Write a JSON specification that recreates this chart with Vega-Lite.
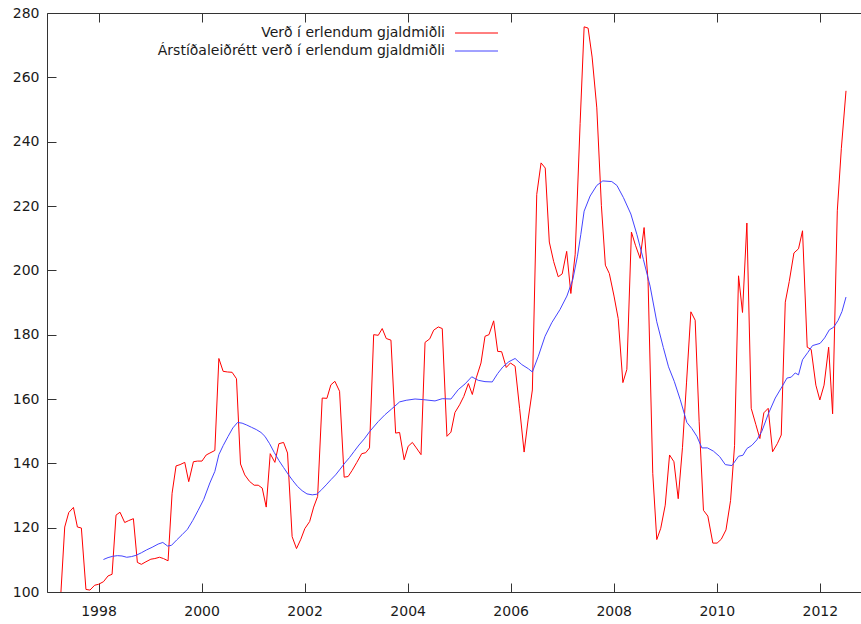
{
  "$schema": "https://vega.github.io/schema/vega-lite/v6.json",
  "width": 814,
  "height": 579,
  "autosize": "none",
  "padding": {"left": 47, "top": 13, "right": 0, "bottom": 32},
  "background": "white",
  "config": {
    "view": {"stroke": null},
    "font": "DejaVu Sans",
    "axis": {
      "grid": false,
      "domainColor": "#333333",
      "tickColor": "#333333",
      "tickWidth": 1,
      "ticks": true,
      "labelColor": "#1a1a1a",
      "labelFont": "DejaVu Sans",
      "labelFontSize": 14,
      "tickSize": -9,
      "title": null
    }
  },
  "datasets": {
    "red": [
      {"year":1997.195,"value":97},{"year":1997.267,"value":99},{"year":1997.344,"value":120.2},{"year":1997.422,"value":124.7},{"year":1997.513,"value":126.3},{"year":1997.59,"value":120.2},{"year":1997.667,"value":119.9},{"year":1997.756,"value":100.8},{"year":1997.834,"value":100.6},{"year":1997.925,"value":102.1},{"year":1998.002,"value":102.4},
      {"year":1998.096,"value":103.2},{"year":1998.185,"value":105},{"year":1998.263,"value":105.5},{"year":1998.34,"value":123.9},{"year":1998.417,"value":124.8},{"year":1998.508,"value":121.6},{"year":1998.586,"value":122.2},{"year":1998.677,"value":122.8},{"year":1998.754,"value":109.2},{"year":1998.832,"value":108.6},{"year":1998.921,"value":109.4},
      {"year":1999.016,"value":110.2},{"year":1999.093,"value":110.4},{"year":1999.184,"value":110.8},{"year":1999.261,"value":110.4},{"year":1999.35,"value":109.7},{"year":1999.428,"value":130.7},{"year":1999.505,"value":139.2},{"year":1999.583,"value":139.6},{"year":1999.674,"value":140.3},{"year":1999.751,"value":134.3},{"year":1999.842,"value":140.5},{"year":1999.919,"value":140.7},{"year":2000.008,"value":140.7},
      {"year":2000.09,"value":142.6},{"year":2000.162,"value":143.2},{"year":2000.258,"value":144},{"year":2000.336,"value":172.6},{"year":2000.419,"value":168.6},{"year":2000.504,"value":168.4},{"year":2000.593,"value":168.3},{"year":2000.678,"value":166.3},{"year":2000.756,"value":139.8},{"year":2000.839,"value":136.4},{"year":2000.93,"value":134.4},{"year":2001.021,"value":133.2},
      {"year":2001.1,"value":133.2},{"year":2001.178,"value":132.3},{"year":2001.255,"value":126.4},{"year":2001.333,"value":143},{"year":2001.423,"value":140.3},{"year":2001.501,"value":146.1},{"year":2001.592,"value":146.5},{"year":2001.669,"value":143.2},{"year":2001.758,"value":117.2},{"year":2001.843,"value":113.5},{"year":2001.927,"value":116.4},{"year":2002.004,"value":119.7},
      {"year":2002.098,"value":121.9},{"year":2002.176,"value":126.4},{"year":2002.253,"value":129.7},{"year":2002.342,"value":160.3},{"year":2002.433,"value":160.2},{"year":2002.51,"value":164.4},{"year":2002.588,"value":165.5},{"year":2002.679,"value":162.4},{"year":2002.768,"value":135.7},{"year":2002.845,"value":135.9},{"year":2002.923,"value":137.8},{"year":2003.014,"value":140.3},
      {"year":2003.109,"value":143},{"year":2003.186,"value":143.3},{"year":2003.26,"value":144.8},{"year":2003.341,"value":180},{"year":2003.43,"value":179.8},{"year":2003.507,"value":181.9},{"year":2003.585,"value":178.8},{"year":2003.676,"value":178.3},{"year":2003.767,"value":149.4},{"year":2003.844,"value":149.6},{"year":2003.933,"value":141.1},{"year":2004.01,"value":145.3},
      {"year":2004.092,"value":146.5},{"year":2004.169,"value":144.8},{"year":2004.26,"value":142.7},{"year":2004.338,"value":177.6},{"year":2004.429,"value":178.7},{"year":2004.506,"value":181.4},{"year":2004.595,"value":182.4},{"year":2004.672,"value":181.9},{"year":2004.763,"value":148.4},{"year":2004.841,"value":149.7},{"year":2004.918,"value":155.8},{"year":2005.009,"value":158.2},
      {"year":2005.09,"value":160.8},{"year":2005.179,"value":164.8},{"year":2005.256,"value":161.4},{"year":2005.333,"value":166.6},{"year":2005.424,"value":171.2},{"year":2005.502,"value":179.5},{"year":2005.579,"value":180},{"year":2005.67,"value":184.3},{"year":2005.748,"value":174.8},{"year":2005.825,"value":174.7},{"year":2005.914,"value":169.8},{"year":2005.995,"value":171.2},
      {"year":2006.086,"value":170.2},{"year":2006.174,"value":157},{"year":2006.261,"value":143.5},{"year":2006.338,"value":153.5},{"year":2006.421,"value":162.8},{"year":2006.506,"value":223.6},{"year":2006.59,"value":233.4},{"year":2006.671,"value":231.8},{"year":2006.75,"value":208.8},{"year":2006.835,"value":202.7},{"year":2006.923,"value":198},{"year":2007.0,"value":198.9},
      {"year":2007.087,"value":205.9},{"year":2007.168,"value":192.8},{"year":2007.252,"value":205},{"year":2007.348,"value":245.7},{"year":2007.426,"value":275.7},{"year":2007.503,"value":275.3},{"year":2007.581,"value":266.3},{"year":2007.672,"value":250.5},{"year":2007.761,"value":220.1},{"year":2007.838,"value":201.6},{"year":2007.915,"value":199},{"year":2008.006,"value":192},
      {"year":2008.087,"value":185},{"year":2008.178,"value":165.1},{"year":2008.255,"value":169.2},{"year":2008.344,"value":211.9},{"year":2008.422,"value":207.8},{"year":2008.513,"value":203.7},{"year":2008.59,"value":213.3},{"year":2008.667,"value":196.6},{"year":2008.758,"value":136.9},{"year":2008.836,"value":116.3},{"year":2008.913,"value":119.8},{"year":2009.0,"value":127},
      {"year":2009.084,"value":142.6},{"year":2009.169,"value":140.5},{"year":2009.252,"value":129},{"year":2009.335,"value":145},{"year":2009.413,"value":165},{"year":2009.498,"value":187.1},{"year":2009.581,"value":184.5},{"year":2009.658,"value":153.1},{"year":2009.742,"value":125.4},{"year":2009.827,"value":123.6},{"year":2009.924,"value":115.2},{"year":2010.007,"value":115.2},
      {"year":2010.088,"value":116.4},{"year":2010.179,"value":119.3},{"year":2010.268,"value":128.4},{"year":2010.346,"value":145.6},{"year":2010.423,"value":198.3},{"year":2010.5,"value":186.9},{"year":2010.585,"value":214.7},{"year":2010.669,"value":157.1},{"year":2010.76,"value":152},{"year":2010.837,"value":147.7},{"year":2010.914,"value":155.7},{"year":2010.998,"value":157.1},
      {"year":2011.084,"value":143.6},{"year":2011.175,"value":146.1},{"year":2011.252,"value":148.8},{"year":2011.33,"value":190.1},{"year":2011.407,"value":196.5},{"year":2011.498,"value":205.4},{"year":2011.587,"value":206.7},{"year":2011.665,"value":212.3},{"year":2011.756,"value":176.1},{"year":2011.833,"value":175.4},{"year":2011.924,"value":164.3},{"year":2012.001,"value":159.7},
      {"year":2012.083,"value":164.3},{"year":2012.172,"value":176.1},{"year":2012.249,"value":155.4},{"year":2012.34,"value":218.5},{"year":2012.418,"value":237.8},{"year":2012.509,"value":255.8}
    ],
    "blue": [
      {"year":1998.096,"value":110.1},{"year":1998.185,"value":110.7},{"year":1998.276,"value":111.1},{"year":1998.367,"value":111.3},{"year":1998.456,"value":111.2},{"year":1998.547,"value":110.8},{"year":1998.638,"value":111},{"year":1998.727,"value":111.4},{"year":1998.832,"value":112.2},{"year":1998.934,"value":113.1},
      {"year":1999.041,"value":113.9},{"year":1999.157,"value":114.9},{"year":1999.248,"value":115.4},{"year":1999.339,"value":114.3},{"year":1999.416,"value":114.5},{"year":1999.519,"value":116.2},{"year":1999.621,"value":117.8},{"year":1999.726,"value":119.5},{"year":1999.828,"value":122.2},{"year":1999.931,"value":125.3},
      {"year":2000.04,"value":128.7},{"year":2000.161,"value":133.9},{"year":2000.258,"value":137.5},{"year":2000.336,"value":142.7},{"year":2000.419,"value":145.5},{"year":2000.516,"value":148.4},{"year":2000.607,"value":151},{"year":2000.698,"value":152.7},{"year":2000.787,"value":152.5},{"year":2000.878,"value":151.9},{"year":2000.969,"value":151.2},
      {"year":2001.062,"value":150.5},{"year":2001.153,"value":149.6},{"year":2001.23,"value":148.4},{"year":2001.321,"value":146.1},{"year":2001.41,"value":143.4},{"year":2001.501,"value":140.9},{"year":2001.592,"value":138.7},{"year":2001.681,"value":136.6},{"year":2001.772,"value":134.6},{"year":2001.863,"value":132.8},{"year":2001.952,"value":131.5},
      {"year":2002.046,"value":130.5},{"year":2002.148,"value":130.2},{"year":2002.239,"value":130.4},{"year":2002.33,"value":131.8},{"year":2002.419,"value":133.3},{"year":2002.51,"value":134.9},{"year":2002.601,"value":136.4},{"year":2002.69,"value":138.2},{"year":2002.781,"value":140.1},{"year":2002.872,"value":141.8},{"year":2002.961,"value":143.7},
      {"year":2003.056,"value":145.7},{"year":2003.159,"value":147.6},{"year":2003.269,"value":150},{"year":2003.43,"value":153},{"year":2003.559,"value":155.1},{"year":2003.689,"value":156.9},{"year":2003.844,"value":159.1},{"year":2003.972,"value":159.6},
      {"year":2004.144,"value":160},{"year":2004.305,"value":159.8},{"year":2004.531,"value":159.4},{"year":2004.672,"value":160.1},{"year":2004.841,"value":160},{"year":2004.982,"value":162.9},
      {"year":2005.115,"value":164.7},{"year":2005.244,"value":166.9},{"year":2005.372,"value":165.8},{"year":2005.502,"value":165.4},{"year":2005.643,"value":165.3},{"year":2005.747,"value":167.9},{"year":2005.85,"value":170},{"year":2005.966,"value":171.6},
      {"year":2006.086,"value":172.6},{"year":2006.216,"value":170.7},{"year":2006.344,"value":169.4},{"year":2006.421,"value":168.4},{"year":2006.537,"value":173.3},{"year":2006.667,"value":179.5},{"year":2006.797,"value":183.7},{"year":2006.957,"value":187.8},
      {"year":2007.091,"value":192},{"year":2007.207,"value":197.2},{"year":2007.296,"value":204.4},{"year":2007.362,"value":211.2},{"year":2007.426,"value":218.4},{"year":2007.542,"value":223.1},{"year":2007.672,"value":226.4},{"year":2007.788,"value":227.8},{"year":2007.962,"value":227.6},
      {"year":2008.062,"value":226.4},{"year":2008.189,"value":222.6},{"year":2008.333,"value":217.5},{"year":2008.449,"value":211.2},{"year":2008.576,"value":203.4},{"year":2008.706,"value":195.1},{"year":2008.836,"value":184},{"year":2008.963,"value":176},
      {"year":2009.064,"value":170},{"year":2009.175,"value":165.5},{"year":2009.291,"value":159.8},{"year":2009.42,"value":152.7},{"year":2009.517,"value":150.8},{"year":2009.614,"value":148.4},{"year":2009.711,"value":144.8},{"year":2009.819,"value":144.8},{"year":2009.935,"value":143.8},
      {"year":2010.056,"value":142.1},{"year":2010.166,"value":139.6},{"year":2010.295,"value":139.3},{"year":2010.423,"value":142.2},{"year":2010.508,"value":142.5},{"year":2010.586,"value":144.6},{"year":2010.682,"value":145.6},{"year":2010.779,"value":147.3},{"year":2010.876,"value":150},{"year":2011.004,"value":155.5},
      {"year":2011.136,"value":160.3},{"year":2011.266,"value":163.8},{"year":2011.363,"value":166.5},{"year":2011.446,"value":166.8},{"year":2011.523,"value":168.1},{"year":2011.587,"value":167.5},{"year":2011.665,"value":172.2},{"year":2011.769,"value":174.5},{"year":2011.858,"value":176.6},{"year":2012.007,"value":177.3},
      {"year":2012.094,"value":179},{"year":2012.185,"value":181.5},{"year":2012.269,"value":182.3},{"year":2012.354,"value":184.4},{"year":2012.431,"value":187.2},{"year":2012.509,"value":191.7}
    ]
  },
  "layer": [
    {
      "data": {"name": "red"},
      "mark": {"type": "line", "clip": true, "strokeWidth": 1},
      "encoding": {
        "x": {"field": "year", "type": "quantitative",
              "scale": {"domain": [1997, 2012.8], "nice": false, "zero": false},
              "axis": {"orient": "bottom", "values": [1998, 2000, 2002, 2004, 2006, 2008, 2010, 2012], "format": "d", "labelPadding": 21}},
        "y": {"field": "value", "type": "quantitative",
              "scale": {"domain": [100, 280], "nice": false, "zero": false},
              "axis": {"values": [100, 120, 140, 160, 180, 200, 220, 240, 260, 280], "labelPadding": 17}},
        "color": {
          "datum": "Verð í erlendum gjaldmiðli",
          "scale": {"domain": ["Verð í erlendum gjaldmiðli", "Árstíðaleiðrétt verð í erlendum gjaldmiðli"], "range": ["#ff0000", "#4444ff"]},
          "legend": {
            "orient": "none", "legendX": 422, "legendY": 12.5,
            "title": null, "padding": 0,
            "symbolType": "M-3.07,0H3.07", "symbolSize": 196, "symbolStrokeWidth": 1,
            "labelAlign": "right", "labelOffset": -39, "labelLimit": 0,
            "labelFont": "DejaVu Sans", "labelFontSize": 14, "labelColor": "#1a1a1a",
            "rowPadding": 3
          }
        }
      }
    },
    {
      "data": {"name": "blue"},
      "mark": {"type": "line", "clip": true, "strokeWidth": 1},
      "encoding": {
        "x": {"field": "year", "type": "quantitative",
              "axis": {"orient": "top", "values": [1998, 2000, 2002, 2004, 2006, 2008, 2010, 2012], "labels": false}},
        "y": {"field": "value", "type": "quantitative"},
        "color": {"datum": "Árstíðaleiðrétt verð í erlendum gjaldmiðli"}
      }
    }
  ],
  "resolve": {"axis": {"x": "independent"}}
}
